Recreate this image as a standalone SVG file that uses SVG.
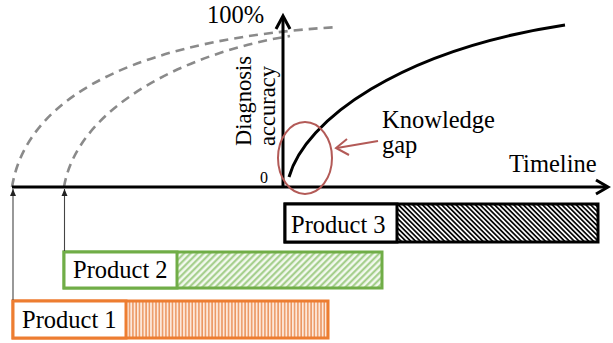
<svg xmlns="http://www.w3.org/2000/svg" width="613" height="343" viewBox="0 0 613 343">
<style>
text{font-family:"Liberation Serif","Times New Roman",serif;fill:#000}
.lbl{font-size:24.5px}
.dash{fill:none;stroke:#8a8a8a;stroke-width:2.6;stroke-dasharray:9 6}
.axis{fill:none;stroke:#000;stroke-width:3}
.thin{fill:none;stroke:#444;stroke-width:1.1}
.red{fill:none;stroke:#b35a57;stroke-width:2}
</style>
<defs>
<pattern id="hBlack" width="3.4" height="10" patternUnits="userSpaceOnUse" patternTransform="rotate(-45)">
<rect width="3.4" height="10" fill="#fff"/>
<line x1="0.9" y1="0" x2="0.9" y2="10" stroke="#000" stroke-width="1.7"/>
</pattern>
<pattern id="hGreen" width="4.6" height="10" patternUnits="userSpaceOnUse" patternTransform="rotate(45)">
<rect width="4.6" height="10" fill="#f3f9ef"/>
<line x1="1.2" y1="0" x2="1.2" y2="10" stroke="#9ecb83" stroke-width="2"/>
</pattern>
<pattern id="hOrange" width="3.3" height="10" patternUnits="userSpaceOnUse">
<rect width="3.3" height="10" fill="#fde8da"/>
<line x1="0.9" y1="0" x2="0.9" y2="10" stroke="#eb9661" stroke-width="1.5"/>
</pattern>
<marker id="thinHead" markerWidth="8" markerHeight="8" refX="7" refY="4" orient="auto" markerUnits="userSpaceOnUse">
<path d="M0,1 L7,4 L0,7 Z" fill="#222"/>
</marker>
</defs>

<g id="dashed-curves">
<path class="dash" d="M12,187 C28,90 150,38 338,27"/>
<path class="dash" d="M64,187 C78,105 190,52 290,36"/>
</g>

<g id="axes">
<line class="axis" x1="12" y1="187" x2="607" y2="187"/>
<path class="axis" d="M596,180 L608,187 L596,194"/>
<line class="axis" x1="283" y1="187" x2="283" y2="17"/>
<path class="axis" d="M276,29 L283,16 L290,29"/>
</g>

<g id="accuracy-curve">
<path d="M289,177 C305,120 400,50 565,25" fill="none" stroke="#000" stroke-width="3"/>
</g>

<g id="knowledge-gap">
<ellipse class="red" cx="305" cy="158" rx="27" ry="36"/>
</g>

<g id="labels">
<text class="lbl" x="207" y="23">100%</text>
<text x="260" y="183" style="font-size:16px">0</text>
<text transform="translate(251,146) rotate(-90)" style="font-size:22.5px">Diagnosis</text>
<text transform="translate(275,146) rotate(-90)" style="font-size:22.5px">accuracy</text>
<text class="lbl" x="382" y="128">Knowledge</text>
<text class="lbl" x="382" y="153">gap</text>
<text class="lbl" x="509" y="172">Timeline</text>
</g>

<g id="product3">
<rect x="285" y="204" width="313" height="38" fill="url(#hBlack)" stroke="#000" stroke-width="3"/>
<rect x="285" y="204" width="112" height="38" fill="#fff" stroke="#000" stroke-width="3"/>
<text class="lbl" x="291" y="233">Product 3</text>
</g>

<g id="product2">
<rect x="64" y="252" width="318" height="36" fill="url(#hGreen)" stroke="#70ad47" stroke-width="3"/>
<rect x="64" y="252" width="113" height="36" fill="#fff" stroke="#70ad47" stroke-width="3"/>
<text class="lbl" x="73" y="278">Product 2</text>
</g>

<g id="product1">
<rect x="13" y="301" width="315" height="37" fill="url(#hOrange)" stroke="#ed7d31" stroke-width="3"/>
<rect x="13" y="301" width="113" height="37" fill="#fff" stroke="#ed7d31" stroke-width="3"/>
<text class="lbl" x="22" y="328">Product 1</text>
</g>

<g id="connectors">
<line class="thin" x1="13" y1="300" x2="13" y2="189" marker-end="url(#thinHead)"/>
<line class="thin" x1="64.5" y1="251" x2="64.5" y2="189" marker-end="url(#thinHead)"/>
<line class="red" x1="378" y1="141" x2="337" y2="148" stroke-width="2.5"/>
<path class="red" d="M347,139 L336,148 L349,155" stroke-width="2.5"/>
</g>
</svg>
